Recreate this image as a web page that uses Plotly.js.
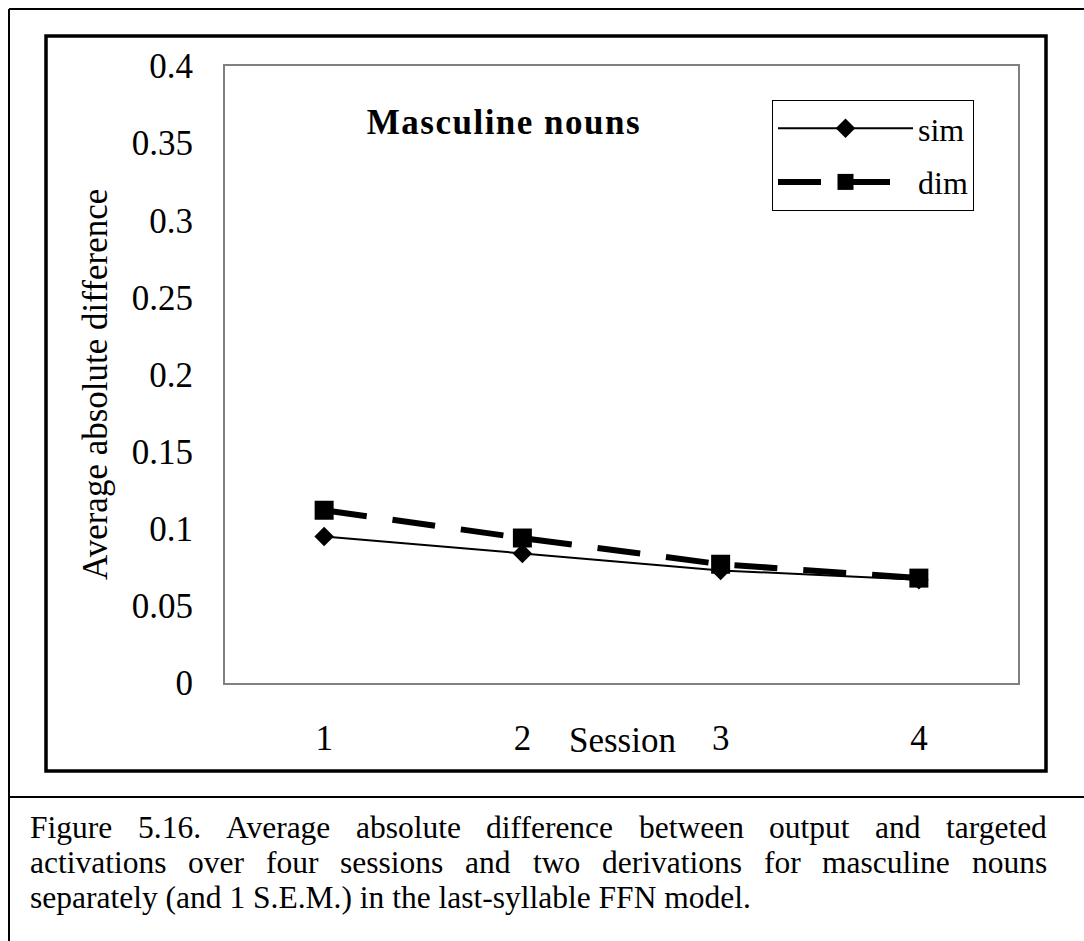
<!DOCTYPE html>
<html><head><meta charset="utf-8">
<script src="https://cdn.plot.ly/plotly-3.0.1.min.js"></script>
<style>
html,body{margin:0;padding:0;background:#fff;overflow:hidden}
g.annotation[data-index="0"] text{letter-spacing:1.5px}
</style>
</head><body><div id="chart" style="width:1084px;height:941px"></div>
<script>
// ---- data ----
const sessions = ['1', '2', '3', '4'];
const simValues = [0.095, 0.084, 0.073, 0.067];
const dimValues = [0.112, 0.094, 0.077, 0.068];
const seriesNames = ['sim', 'dim'];
const yTickValues = [0, 0.05, 0.1, 0.15, 0.2, 0.25, 0.3, 0.35, 0.4];
const yTickLabels = ['0', '0.05', '0.1', '0.15', '0.2', '0.25', '0.3', '0.35', '0.4'];
const chartTitle = 'Masculine nouns';
const xAxisTitle = 'Session';
const yAxisTitle = 'Average absolute difference';
const captionLines = [
  'Figure 5.16. Average absolute difference between output and targeted',
  'activations over four sessions and two derivations for masculine nouns',
  'separately (and 1 S.E.M.) in the last-syllable FFN model.'
];

// ---- layout helpers ----
const W = 1084, H = 941;
const px = x => x / W;
const py = y => 1 - y / H;
const SERIF = '"Liberation Serif", "Times New Roman", serif';
const FS = 35;      // chart text
const CFS = 31.5;   // caption text
const LFS = 32;     // legend text

const traces = [
  {x: sessions, y: simValues, name: seriesNames[0], legendgroup: 'g1', type: 'scatter', mode: 'lines+markers',
   line: {color: '#000', width: 2}, marker: {symbol: 'diamond', size: 15, color: '#000'}},
  {x: sessions, y: dimValues, name: seriesNames[1], legendgroup: 'g2', type: 'scatter', mode: 'lines+markers',
   line: {color: '#000', width: 6, dash: '43px,26px'}, marker: {symbol: 'square', size: 19, color: '#000'}}
];

const annotations = [
  {text: '<b>' + chartTitle + '</b>', x: px(504), y: py(122), xref: 'paper', yref: 'paper',
   xanchor: 'center', yanchor: 'middle', showarrow: false, font: {family: SERIF, size: FS, color: '#000'}},
  {text: xAxisTitle, x: px(622), y: py(740), xref: 'paper', yref: 'paper',
   xanchor: 'center', yanchor: 'middle', showarrow: false, font: {family: SERIF, size: FS, color: '#000'}},
  {text: yAxisTitle, x: px(95), y: py(385), xref: 'paper', yref: 'paper', textangle: -90,
   xanchor: 'center', yanchor: 'middle', showarrow: false, font: {family: SERIF, size: FS, color: '#000'}}
];

// justified caption
const cv = document.createElement('canvas').getContext('2d');
cv.font = CFS + 'px "Liberation Serif"';
const capLeft = 29, capRight = 1046, capY = [827, 862, 897];
captionLines.forEach((line, i) => {
  const words = line.split(' ');
  const justify = i < captionLines.length - 1;
  if (!justify) {
    annotations.push({text: line, x: px(capLeft), y: py(capY[i]), xref: 'paper', yref: 'paper',
      xanchor: 'left', yanchor: 'middle', showarrow: false, borderpad: 0, font: {family: SERIF, size: CFS, color: '#000'}});
    return;
  }
  const widths = words.map(w => cv.measureText(w).width);
  const total = widths.reduce((a, b) => a + b, 0);
  const gap = (capRight - capLeft - total) / (words.length - 1);
  let xx = capLeft;
  words.forEach((w, j) => {
    annotations.push({text: w, x: px(xx), y: py(capY[i]), xref: 'paper', yref: 'paper',
      xanchor: 'left', yanchor: 'middle', showarrow: false, borderpad: 0, font: {family: SERIF, size: CFS, color: '#000'}});
    xx += widths[j] + gap;
  });
});

const shapes = [
  // outer thin frame
  {type: 'line', xref: 'paper', yref: 'paper', x0: px(9), x1: px(9), y0: py(9), y1: py(945), line: {color: '#000', width: 2}},
  {type: 'line', xref: 'paper', yref: 'paper', x0: px(9), x1: px(1090), y0: py(9), y1: py(9), line: {color: '#000', width: 2}},
  {type: 'line', xref: 'paper', yref: 'paper', x0: px(9), x1: px(1090), y0: py(797), y1: py(797), line: {color: '#000', width: 2}},
  // thick chart frame
  {type: 'rect', xref: 'paper', yref: 'paper', x0: px(46), x1: px(1046), y0: py(36), y1: py(771), line: {color: '#000', width: 3.5}}
];

const layout = {
  width: W, height: H,
  margin: {l: 0, r: 0, t: 0, b: 0},
  paper_bgcolor: '#fff', plot_bgcolor: '#fff',
  showlegend: true,
  legend: {x: px(772), y: py(100), xanchor: 'left', yanchor: 'top', bordercolor: '#000', borderwidth: 1,
    bgcolor: '#fff', font: {family: SERIF, size: LFS, color: '#000'}, itemwidth: 135,
    traceorder: 'grouped', tracegroupgap: 9},
  xaxis: {domain: [px(225), px(1018)], type: 'category', categoryorder: 'array', categoryarray: sessions,
    range: [-0.5, 3.5], showline: true, mirror: true, linecolor: '#808080', linewidth: 2,
    ticks: '', showgrid: false, zeroline: false, ticklabelstandoff: 23,
    tickfont: {family: SERIF, size: FS, color: '#000'}, fixedrange: true},
  yaxis: {domain: [py(683), py(66)], range: [0, 0.4], tickvals: yTickValues, ticktext: yTickLabels,
    showline: true, mirror: true, linecolor: '#808080', linewidth: 2, ticks: '', showgrid: false, zeroline: false,
    ticklabelstandoff: 23, tickfont: {family: SERIF, size: FS, color: '#000'}, fixedrange: true},
  annotations: annotations,
  shapes: shapes
};

Plotly.newPlot('chart', traces, layout, {displayModeBar: false, staticPlot: true});
</script>
</body></html>
